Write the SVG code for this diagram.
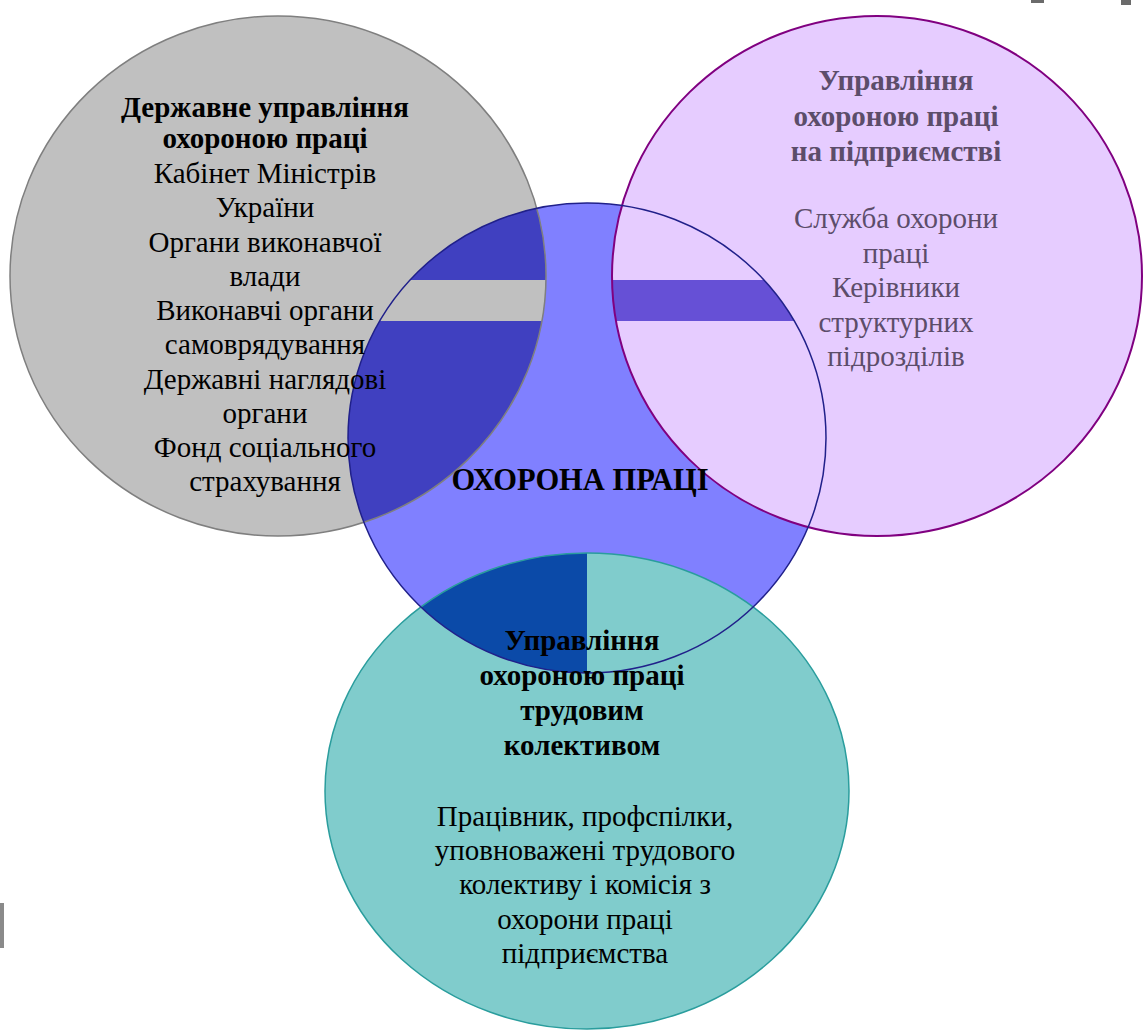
<svg xmlns="http://www.w3.org/2000/svg" width="1143" height="1030" viewBox="0 0 1143 1030">
<style>
text{font-family:"Liberation Serif","Times New Roman",serif;font-size:29px;text-anchor:middle;fill:#000}
.b{font-weight:bold}
.big{font-size:30.5px}
.pt{fill:#5c4d6a}
.ol{fill:none}
</style>
<defs>
<clipPath id="cGray"><ellipse cx="278" cy="276" rx="268" ry="260"/></clipPath>
<clipPath id="cBlue"><ellipse cx="587" cy="438" rx="239" ry="235"/></clipPath>
<clipPath id="cPurple"><ellipse cx="877" cy="276" rx="265" ry="260"/></clipPath>
<clipPath id="cTeal"><ellipse cx="587" cy="791" rx="262" ry="238"/></clipPath>
</defs>
<rect width="1143" height="1030" fill="#fff"/>
<g id="edge-marks" fill="#6b6b6b">
<rect x="1031" y="0" width="13" height="3"/>
<rect x="1121" y="0" width="10" height="5"/>
<rect x="0" y="903" width="4" height="45" fill="#8a8a8a"/>
</g>
<g id="node-gov">
<ellipse cx="278" cy="276" rx="268" ry="260" fill="#c0c0c0"/>
</g>
<g id="node-main">
<ellipse cx="587" cy="438" rx="239" ry="235" fill="#8080ff"/>
</g>
<g id="overlap-gov-main" clip-path="url(#cGray)">
<ellipse cx="587" cy="438" rx="239" ry="235" fill="#4040c0"/>
<rect x="300" y="280" width="300" height="41" fill="#c0c0c0"/>
</g>
<g id="node-enterprise">
<ellipse cx="877" cy="276" rx="265" ry="260" fill="#e6ccff"/>
</g>
<g id="overlap-enterprise-main" clip-path="url(#cPurple)">
<rect x="590" y="280" width="260" height="41" fill="#6650d6" clip-path="url(#cBlue)"/>
</g>
<g id="node-collective">
<ellipse cx="587" cy="791" rx="262" ry="238" fill="#80cccc"/>
</g>
<g id="overlap-collective-main" clip-path="url(#cTeal)">
<rect x="300" y="540" width="287" height="200" fill="#0b4aa8" clip-path="url(#cBlue)"/>
</g>
<g id="outlines" class="ol">
<ellipse cx="278" cy="276" rx="268" ry="260" stroke="#7f7f7f" stroke-width="1.5"/>
<ellipse cx="877" cy="276" rx="265" ry="260" stroke="#800080" stroke-width="2"/>
<ellipse cx="587" cy="791" rx="262" ry="238" stroke="#2a9d9d" stroke-width="1.5"/>
<ellipse cx="587" cy="438" rx="239" ry="235" stroke="#20208a" stroke-width="1.5"/>
</g>
<g id="label-gov">
<text x="265" y="117" class="b">Державне управління</text>
<text x="265" y="148" class="b">охороною праці</text>
<text x="265" y="183">Кабінет Міністрів</text>
<text x="265" y="217">України</text>
<text x="265" y="252">Органи виконавчої</text>
<text x="265" y="286">влади</text>
<text x="265" y="320">Виконавчі органи</text>
<text x="265" y="354">самоврядування</text>
<text x="265" y="389">Державні наглядові</text>
<text x="265" y="423">органи</text>
<text x="265" y="457">Фонд соціального</text>
<text x="265" y="491">страхування</text>
</g>
<g id="label-main">
<text x="580" y="490" class="b big">ОХОРОНА ПРАЦІ</text>
</g>
<g id="label-enterprise" class="pt">
<text x="896" y="90" class="b pt">Управління</text>
<text x="896" y="126" class="b pt">охороною праці</text>
<text x="896" y="161" class="b pt">на підприємстві</text>
<text x="896" y="228" class="pt">Служба охорони</text>
<text x="896" y="263" class="pt">праці</text>
<text x="896" y="297" class="pt">Керівники</text>
<text x="896" y="332" class="pt">структурних</text>
<text x="896" y="366" class="pt">підрозділів</text>
</g>
<g id="label-collective">
<text x="582" y="650" class="b">Управління</text>
<text x="582" y="685" class="b">охороною праці</text>
<text x="582" y="720" class="b">трудовим</text>
<text x="582" y="755" class="b">колективом</text>
<text x="585" y="826">Працівник, профспілки,</text>
<text x="585" y="860">уповноважені трудового</text>
<text x="585" y="894">колективу і комісія з</text>
<text x="585" y="929">охорони праці</text>
<text x="585" y="963">підприємства</text>
</g>
</svg>
